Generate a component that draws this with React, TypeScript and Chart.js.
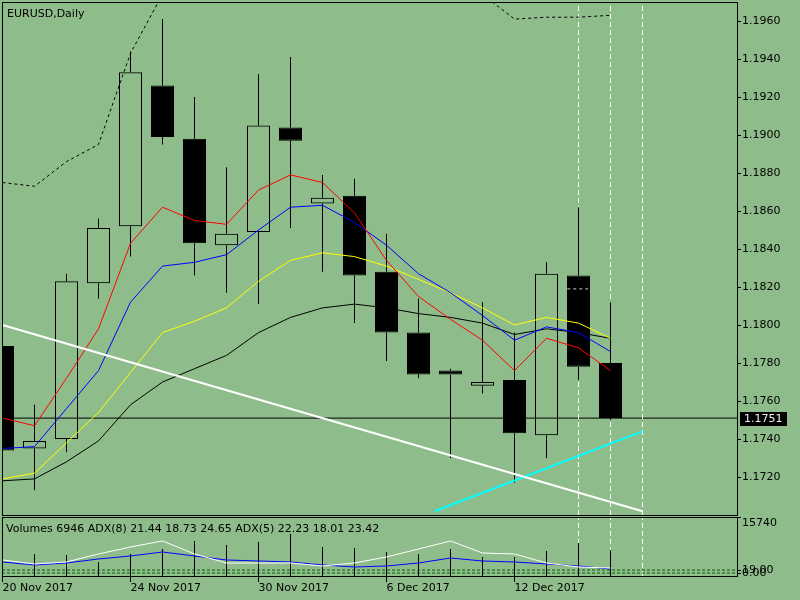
import React, { useEffect, useRef } from 'react';
import { Chart, registerables } from 'chart.js';

Chart.register(...registerables);

// ---------- data ----------
const symbolTitle = 'EURUSD,Daily';
const subTitle = 'Volumes 6946 ADX(8) 21.44 18.73 24.65 ADX(5) 22.23 18.01 23.42';

const dates = [
  '20 Nov 2017', '21 Nov 2017', '22 Nov 2017', '23 Nov 2017', '24 Nov 2017',
  '27 Nov 2017', '28 Nov 2017', '29 Nov 2017', '30 Nov 2017', '1 Dec 2017',
  '4 Dec 2017', '5 Dec 2017', '6 Dec 2017', '7 Dec 2017', '8 Dec 2017',
  '11 Dec 2017', '12 Dec 2017', '13 Dec 2017', '14 Dec 2017', '15 Dec 2017',
];
const dateTickIdx = [0, 4, 8, 12, 16];

const opens = [1.1789, 1.1735, 1.1740, 1.1822, 1.1852, 1.1926, 1.1898, 1.1842, 1.1849, 1.1904, 1.1864, 1.1868, 1.1828, 1.1796, 1.1776, 1.1768, 1.1771, 1.1742, 1.1826, 1.1780];
const highs = [1.1795, 1.1758, 1.1827, 1.1856, 1.1944, 1.1961, 1.1920, 1.1883, 1.1932, 1.1941, 1.1879, 1.1877, 1.1848, 1.1814, 1.1777, 1.1812, 1.1796, 1.1833, 1.1862, 1.1812];
const lows = [1.1730, 1.1713, 1.1733, 1.1814, 1.1836, 1.1895, 1.1826, 1.1817, 1.1811, 1.1851, 1.1828, 1.1801, 1.1781, 1.1772, 1.1730, 1.1764, 1.1717, 1.1730, 1.1771, 1.1750];
const closes = [1.1734, 1.1739, 1.1823, 1.1851, 1.1933, 1.1899, 1.1843, 1.1848, 1.1905, 1.1897, 1.1867, 1.1826, 1.1796, 1.1774, 1.1774, 1.1770, 1.1743, 1.1827, 1.1778, 1.1751];

const maRed = [1.1751, 1.1747, 1.1772, 1.1798, 1.1843, 1.1862, 1.1855, 1.1853, 1.1871, 1.1879, 1.1875, 1.1859, 1.1834, 1.1815, 1.1803, 1.1792, 1.1776, 1.1793, 1.1788, 1.1776];
const maBlue = [1.1735, 1.1736, 1.1756, 1.1776, 1.1812, 1.1831, 1.1833, 1.1837, 1.1850, 1.1862, 1.1863, 1.1854, 1.1842, 1.1827, 1.1817, 1.1805, 1.1792, 1.1799, 1.1796, 1.1786];
const maYellow = [1.1719, 1.1722, 1.1738, 1.1754, 1.1775, 1.1796, 1.1802, 1.1809, 1.1823, 1.1834, 1.1838, 1.1836, 1.1831, 1.1824, 1.1817, 1.1809, 1.1800, 1.1804, 1.1801, 1.1793];
const maBlack = [1.1718, 1.1719, 1.1728, 1.1739, 1.1758, 1.1770, 1.1777, 1.1784, 1.1796, 1.1804, 1.1809, 1.1811, 1.1809, 1.1806, 1.1804, 1.1801, 1.1795, 1.1798, 1.1796, 1.1793];
const upperBand = [1.1875, 1.1873, 1.1886, 1.1895, 1.1943, 1.1974, 1.1982, 1.1987, 1.1989, 1.1989, 1.1987, 1.1984, 1.1982, 1.1979, 1.1976, 1.1974, 1.1961, 1.1962, 1.1962, 1.1963];

const trendWhiteIdx = [0, 20];
const trendWhitePrice = [1.1800, 1.1702];
const trendCyanIdx = [13.5, 20];
const trendCyanPrice = [1.1702, 1.1744];
const markIdx = [17.65, 18.3];
const markPrice = 1.1819;

const separatorIdx = [18, 19, 20];
const currentPrice = 1.1751;

const priceMin = 1.1700;
const priceMax = 1.1970;
const priceTicks = [1.1720, 1.1740, 1.1760, 1.1780, 1.1800, 1.1820, 1.1840, 1.1860, 1.1880, 1.1900, 1.1920, 1.1940, 1.1960];

const volumes = [6200, 5870, 5600, 3740, 5870, 7210, 9340, 8280, 9080, 11210, 7740, 7480, 6410, 5870, 7210, 5070, 5070, 6680, 8810, 6946];
const volMax = 15740;

const adxWhite = [42.9, 32.2, 37.5, 59.0, 77.7, 93.8, 59.0, 34.8, 34.8, 34.8, 26.8, 34.8, 50.9, 72.4, 93.8, 61.6, 59.0, 34.8, 24.1, 21.4];
const adxBlue = [37.5, 29.5, 34.8, 45.6, 53.6, 64.3, 53.6, 42.9, 40.2, 37.5, 29.5, 24.1, 26.8, 34.8, 48.2, 40.2, 37.5, 32.2, 26.8, 18.8];
const adxMax = 158;
const adxLevels = [16, 8];
const adxLevelLabels = ['19.00', '0.00'];

// ---------- styling ----------
const BG = 'rgb(143,188,139)';
const FONT = "'DejaVu Sans', sans-serif";
const X_MIN = -1 / 64;
const X_MAX = X_MIN + 735 / 32;

const pts = (arr: number[]) => arr.map((v, i) => ({ x: i, y: v }));

const noPad = (s: any) => {
  s.paddingTop = 0;
  s.paddingBottom = 0;
  s.paddingLeft = 0;
  s.paddingRight = 0;
};

const framePlugin = {
  id: 'frame',
  afterDraw(chart: any) {
    const { ctx, chartArea: a } = chart;
    ctx.save();
    ctx.strokeStyle = '#000';
    ctx.lineWidth = 1;
    ctx.strokeRect(Math.round(a.left) + 0.5, Math.round(a.top) + 0.5, Math.round(a.right - a.left), Math.round(a.bottom - a.top));
    ctx.restore();
  },
};

const mainTextPlugin = {
  id: 'mainText',
  afterDraw(chart: any) {
    const { ctx, chartArea: a } = chart;
    ctx.save();
    ctx.font = `11px ${FONT}`;
    ctx.fillStyle = '#000';
    ctx.textBaseline = 'alphabetic';
    ctx.textAlign = 'left';
    ctx.fillText(symbolTitle, a.left + 5, a.top + 15);
    const y = Math.round(chart.scales.y.getPixelForValue(currentPrice));
    ctx.fillStyle = '#000';
    ctx.fillRect(a.right + 3, y - 6, 47, 14);
    ctx.fillStyle = '#f0f0f0';
    ctx.textBaseline = 'middle';
    ctx.fillText(currentPrice.toFixed(4), a.right + 7, y + 1);
    ctx.restore();
  },
};

const subTextPlugin = {
  id: 'subText',
  afterDraw(chart: any) {
    const { ctx, chartArea: a } = chart;
    ctx.save();
    ctx.font = `11px ${FONT}`;
    ctx.fillStyle = '#000';
    ctx.textBaseline = 'alphabetic';
    ctx.textAlign = 'left';
    ctx.fillText(subTitle, a.left + 4, a.top + 15);
    ctx.textBaseline = 'middle';
    const adx = chart.scales.adx;
    adxLevels.forEach((lv, i) => {
      ctx.fillText(adxLevelLabels[i], a.right + 5, adx.getPixelForValue(lv));
    });
    ctx.restore();
  },
};

function lineDs(data: any[], color: string, order: number, extra: any = {}) {
  return {
    type: 'line',
    data,
    borderColor: color,
    backgroundColor: color,
    borderWidth: 1,
    pointRadius: 0,
    tension: 0,
    fill: false,
    order,
    ...extra,
  };
}

function buildMain(): any {
  const bodies = opens.map((o, i) => ({ x: i, y: [o, closes[i]] }));
  const upWicks = opens.map((o, i) => ({ x: i, y: [Math.max(o, closes[i]), highs[i]] }));
  const loWicks = opens.map((o, i) => ({ x: i, y: [lows[i], Math.min(o, closes[i])] }));
  const bodyColors = opens.map((o, i) => (closes[i] < o ? '#000' : 'rgba(0,0,0,0)'));

  const datasets: any[] = [
    lineDs(trendWhiteIdx.map((x, k) => ({ x, y: trendWhitePrice[k] })), '#ffffff', 0, { borderWidth: 2 }),
    lineDs(trendCyanIdx.map((x, k) => ({ x, y: trendCyanPrice[k] })), '#00ffff', 0, { borderWidth: 2 }),
    lineDs(markIdx.map((x) => ({ x, y: markPrice })), '#d0d0d0', 1, { borderDash: [3, 3] }),
    lineDs(pts(maRed), '#ff0000', 2),
    lineDs(pts(maBlue), '#0000ff', 2),
    lineDs(pts(maYellow), '#ffff00', 2),
    lineDs(pts(maBlack), '#000000', 2),
    lineDs(pts(upperBand), '#000000', 2, { borderDash: [3, 3] }),
    {
      type: 'bar', data: bodies, backgroundColor: bodyColors, borderColor: '#000', borderWidth: 1,
      borderSkipped: false, barThickness: 23, grouped: false, clip: 0, inflateAmount: 0, order: 6,
    },
    {
      type: 'bar', data: upWicks, backgroundColor: '#000', borderWidth: 0,
      barThickness: 1, grouped: false, clip: 0, inflateAmount: 0, order: 7,
    },
    {
      type: 'bar', data: loWicks, backgroundColor: '#000', borderWidth: 0,
      barThickness: 1, grouped: false, clip: 0, inflateAmount: 0, order: 7,
    },
    ...separatorIdx.map((x) => lineDs([{ x, y: priceMin }, { x, y: priceMax }], '#ffffff', 8, { borderDash: [5, 3] })),
    lineDs([{ x: X_MIN, y: currentPrice }, { x: X_MAX, y: currentPrice }], '#000000', 9),
  ];

  return {
    type: 'bar',
    data: { datasets },
    options: {
      responsive: false,
      animation: false,
      devicePixelRatio: 1,
      events: [],
      layout: { padding: { left: 2, top: 2, right: 0, bottom: 1 } },
      plugins: { legend: { display: false }, tooltip: { enabled: false }, title: { display: false } },
      scales: {
        x: {
          type: 'linear', min: X_MIN, max: X_MAX, display: false, offset: false,
          grid: { offset: false },
          afterFit: (s: any) => { noPad(s); },
        },
        y: {
          type: 'linear', position: 'right', min: priceMin, max: priceMax,
          afterFit: (s: any) => { s.width = 63; noPad(s); },
          afterBuildTicks: (s: any) => { s.ticks = priceTicks.map((v) => ({ value: v })); },
          ticks: {
            autoSkip: false, padding: 1, color: '#000',
            font: { family: FONT, size: 11 },
            callback: (v: any) => Number(v).toFixed(4),
          },
          grid: { drawOnChartArea: false, drawTicks: true, tickLength: 4, color: '#000' },
          border: { display: false },
        },
      },
    },
    plugins: [framePlugin, mainTextPlugin],
  };
}

function buildSub(): any {
  const datasets: any[] = [
    lineDs(pts(adxWhite), '#ffffff', 0, { yAxisID: 'adx' }),
    lineDs(pts(adxBlue), '#0000ff', 0, { yAxisID: 'adx' }),
    {
      type: 'bar', data: pts(volumes), yAxisID: 'vol', backgroundColor: '#000', borderWidth: 0,
      barThickness: 1, grouped: false, clip: 0, inflateAmount: 0, order: 2,
    },
    ...adxLevels.map((lv) => lineDs([{ x: X_MIN, y: lv }, { x: X_MAX, y: lv }], '#006000', 3, { yAxisID: 'adx', borderDash: [3, 2] })),
    ...separatorIdx.map((x) => lineDs([{ x, y: 0 }, { x, y: volMax }], '#ffffff', 4, { yAxisID: 'vol', borderDash: [5, 3] })),
  ];

  return {
    type: 'bar',
    data: { datasets },
    options: {
      responsive: false,
      animation: false,
      devicePixelRatio: 1,
      events: [],
      layout: { padding: { left: 2, top: 1, right: 0, bottom: 0 } },
      plugins: { legend: { display: false }, tooltip: { enabled: false }, title: { display: false } },
      scales: {
        x: {
          type: 'linear', position: 'bottom', min: X_MIN, max: X_MAX, offset: false,
          afterFit: (s: any) => { s.height = 24; noPad(s); },
          afterBuildTicks: (s: any) => { s.ticks = dateTickIdx.map((v) => ({ value: v })); },
          ticks: {
            autoSkip: false, maxRotation: 0, minRotation: 0, align: 'start', padding: 0, color: '#000',
            font: { family: FONT, size: 11 },
            callback: (v: any) => dates[Math.round(Number(v))],
          },
          grid: { offset: false, drawOnChartArea: false, drawTicks: true, tickLength: 6, color: '#000' },
          border: { display: false },
        },
        adx: {
          type: 'linear', position: 'right', min: 0, max: adxMax, weight: 0,
          afterFit: (s: any) => { s.width = 0; noPad(s); },
          afterBuildTicks: (s: any) => { s.ticks = adxLevels.map((v) => ({ value: v })); },
          ticks: { display: false, autoSkip: false },
          grid: { drawOnChartArea: false, drawTicks: true, tickLength: 4, color: '#000' },
          border: { display: false },
        },
        vol: {
          type: 'linear', position: 'right', min: 0, max: volMax, weight: 1,
          afterFit: (s: any) => { s.width = 63; noPad(s); },
          afterBuildTicks: (s: any) => { s.ticks = [{ value: volMax }]; },
          ticks: {
            autoSkip: false, padding: 1, labelOffset: 6, color: '#000',
            font: { family: FONT, size: 11 },
            callback: (v: any) => String(Math.round(Number(v))),
          },
          grid: { drawOnChartArea: false, drawTicks: true, tickLength: 4, color: '#000' },
          border: { display: false },
        },
      },
    },
    plugins: [framePlugin, subTextPlugin],
  };
}

export default function App() {
  const ref1 = useRef<HTMLCanvasElement>(null);
  const ref2 = useRef<HTMLCanvasElement>(null);

  useEffect(() => {
    Chart.defaults.font.family = FONT;
    Chart.defaults.font.size = 11;
    Chart.defaults.color = '#000';
    const c1 = new Chart(ref1.current as HTMLCanvasElement, buildMain());
    const c2 = new Chart(ref2.current as HTMLCanvasElement, buildSub());
    return () => {
      c1.destroy();
      c2.destroy();
    };
  }, []);

  return (
    <div style={{ position: 'fixed', left: 0, top: 0, width: 800, height: 600, background: BG, overflow: 'hidden' }}>
      <canvas ref={ref1} width={800} height={516} style={{ position: 'absolute', left: 0, top: 0, width: 800, height: 516 }} />
      <canvas ref={ref2} width={800} height={84} style={{ position: 'absolute', left: 0, top: 516, width: 800, height: 84 }} />
    </div>
  );
}
